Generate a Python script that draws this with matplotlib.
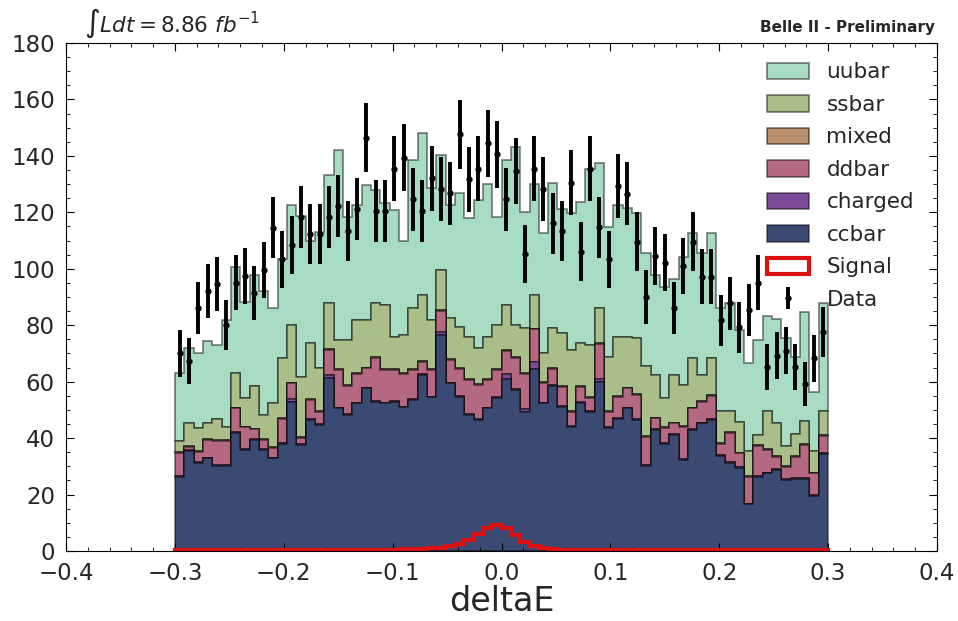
import matplotlib
matplotlib.use("Agg")
import matplotlib.pyplot as plt
import numpy as np
from matplotlib.ticker import MultipleLocator, AutoMinorLocator

# 70 bins in deltaE between -0.3 and 0.3
edges = np.linspace(-0.3, 0.3, 71)
centers = 0.5 * (edges[:-1] + edges[1:])

ccbar = [26.3, 35.5, 31.3, 32.8, 30.1, 30.1, 41.7, 35.8, 39.3, 35.8,
         32.8, 37.9, 52.9, 37.6, 46.4, 44.6, 61.2, 50.5, 48.2, 52.3,
         57.6, 52.9, 52.3, 52.9, 50.9, 53.5, 62.4, 54.4, 76.5, 59.4,
         54.7, 48.2, 46.4, 50.5, 54.1, 60.8, 57.0, 49.4, 64.4, 52.3,
         58.5, 51.1, 44.1, 52.6, 49.4, 60.0, 43.5, 46.7, 50.5, 46.4,
         30.1, 42.9, 37.9, 41.1, 32.2, 42.9, 45.2, 46.4, 33.7, 31.1,
         29.3, 16.5, 26.3, 27.5, 28.7, 25.2, 25.4, 25.4, 19.5, 34.4]
charged = [0.3] * 12 + [0.8] + [0.3] * 3 + [1.0] + [0.3] * 11 + [1.2] + [0.3] * 6 + \
          [2.0, 0.3, 0.8, 2.4] + [0.3] * 6 + [1.0] + [0.3] * 24
ddbar = [8.2, 1.2, 3.6, 6.2, 8.7, 8.7, 8.5, 7.7, 3.5, 3.2,
         3.3, 8.5, 5.7, 2.1, 6.8, 4.5, 9.0, 13.3, 10.0, 10.1,
         6.8, 15.1, 11.5, 10.9, 11.5, 10.3, 4.4, 9.4, 7.5, 8.0,
         9.4, 12.1, 12.1, 9.8, 9.7, 8.1, 11.0, 12.5, 11.7, 7.0,
         5.6, 6.8, 5.0, 5.1, 4.4, 12.3, 5.6, 7.7, 6.8, 8.6,
         10.1, 3.8, 5.3, 3.8, 11.6, 7.3, 7.4, 8.2, 4.0, 10.3,
         5.0, 9.5, 10.6, 8.0, 4.4, 4.4, 7.7, 11.9, 7.7, 6.0]
mixed = [0.3] * 70
ssbar = [4.0, 7.9, 8.0, 5.6, 7.4, 4.7, 12.2, 10.0, 15.1, 8.6,
         15.6, 21.3, 20.4, 21.2, 19.8, 15.0, 16.3, 10.4, 16.0, 18.8,
         16.8, 19.2, 22.8, 11.5, 13.5, 21.6, 23.3, 17.4, 14.1, 14.4,
         14.5, 15.0, 12.7, 14.8, 15.7, 16.0, 11.5, 15.9, 11.9, 10.1,
         14.2, 18.9, 21.5, 15.3, 18.6, 12.4, 19.2, 20.9, 17.8, 19.7,
         24.7, 15.1, 10.3, 16.9, 14.4, 17.5, 9.2, 13.1, 11.4, 7.7,
         10.9, 8.9, 3.6, 13.6, 11.8, 7.0, 7.8, 8.3, 7.7, 8.7]
uubar = [23.9, 26.6, 26.5, 29.3, 26.2, 37.7, 37.5, 34.2, 39.3, 44.0,
         33.7, 35.0, 42.5, 57.2, 36.4, 48.4, 45.4, 67.3, 43.7, 40.8,
         47.9, 40.1, 36.0, 44.9, 33.5, 52.5, 57.5, 46.9, 40.7, 40.2,
         47.8, 42.0, 52.6, 54.2, 38.4, 51.3, 63.2, 41.3, 39.2, 42.8,
         51.4, 43.7, 48.4, 49.9, 62.2, 51.6, 45.8, 46.7, 45.7, 44.6,
         40.0, 35.4, 39.6, 33.9, 45.5, 44.3, 43.3, 44.3, 36.3, 38.1,
         32.5, 31.2, 33.7, 33.6, 36.6, 38.1, 27.4, 38.6, 21.0, 38.1]
signal = [0.3] * 20 + [0.4, 0.4, 0.5, 0.5, 0.6, 0.7, 0.8, 1.0, 1.1, 1.6,
                       2.5, 4.0, 6.2, 8.3, 9.2, 8.0, 5.6, 3.3, 1.8, 1.0,
                       0.6, 0.4] + [0.3] * 28
data = [70.0, 67.4, 86.1, 92.2, 94.6, 80.1, 95.1, 97.4, 91.5, 99.6,
        114.6, 103.3, 108.4, 118.3, 112.3, 112.3, 118.3, 122.2, 113.5, 121.3,
        146.5, 120.6, 120.6, 135.5, 139.4, 124.6, 120.6, 132.0, 128.4, 126.7,
        147.6, 131.7, 135.5, 144.4, 140.5, 124.6, 134.6, 105.1, 135.5, 128.4,
        116.1, 113.4, 130.5, 106.1, 135.5, 114.7, 103.3, 129.3, 126.6, 109.5,
        90.1, 104.5, 102.2, 86.1, 101.0, 109.6, 97.2, 97.2, 81.8, 87.8,
        79.2, 85.4, 95.1, 65.3, 69.2, 71.0, 65.3, 59.2, 68.3, 77.5]

labels = ["ccbar", "charged", "ddbar", "mixed", "ssbar", "uubar"]
colors = ["#3b4a72", "#7c4a96", "#b56882", "#b98e6c", "#a9be88", "#a8dcc2"]
samples = [ccbar, charged, ddbar, mixed, ssbar, uubar]

fig = plt.figure(figsize=(9.58, 6.21), dpi=100)
ax = fig.add_axes([0.069, 0.1127, 0.909, 0.8181])

_, _, patches = ax.hist([centers] * 6, bins=edges, weights=samples, stacked=True,
                        histtype="stepfilled", color=colors, label=labels,
                        edgecolor=(0, 0, 0, 0.5), linewidth=1.2)
_, _, sig = ax.hist(centers, bins=edges, weights=signal, histtype="step",
                    color="#dd1111", linewidth=3.0, label="Signal")
err = ax.errorbar(centers, data, yerr=np.sqrt(data), fmt="o", color="black",
                  ms=3.5, elinewidth=2.8, capsize=0, label="Data")

ax.set_xlim(-0.4, 0.4)
ax.set_ylim(0, 180)
ax.xaxis.set_major_locator(MultipleLocator(0.1))
ax.yaxis.set_major_locator(MultipleLocator(20))
ax.xaxis.set_minor_locator(AutoMinorLocator(5))
ax.yaxis.set_minor_locator(AutoMinorLocator(4))
ax.tick_params(which="both", direction="in", top=True, right=True,
               labelsize=16.5, labelcolor="#262626")
ax.tick_params(which="major", length=6, pad=8)
ax.tick_params(which="minor", length=3)
ax.set_xlabel("deltaE", fontsize=24, color="#262626", labelpad=0)

handles = [p[0] for p in patches[::-1]] + [sig[0], err]
names = labels[::-1] + ["Signal", "Data"]
ax.legend(handles, names, loc="upper right", bbox_to_anchor=(0.996, 1.0),
          frameon=False, fontsize=15.5, handlelength=1.95, handleheight=0.8,
          labelspacing=0.58, handletextpad=0.8, labelcolor="#262626")

ax.text(0.02, 1.005, r"$\int Ldt = 8.86\ fb^{-1}$", transform=ax.transAxes,
        fontsize=15.5, ha="left", va="bottom", color="#262626")
ax.text(0.998, 1.015, "Belle II - Preliminary", transform=ax.transAxes,
        fontsize=11, fontweight="bold", ha="right", va="bottom", color="#262626")

fig.savefig("out.png", dpi=100)
